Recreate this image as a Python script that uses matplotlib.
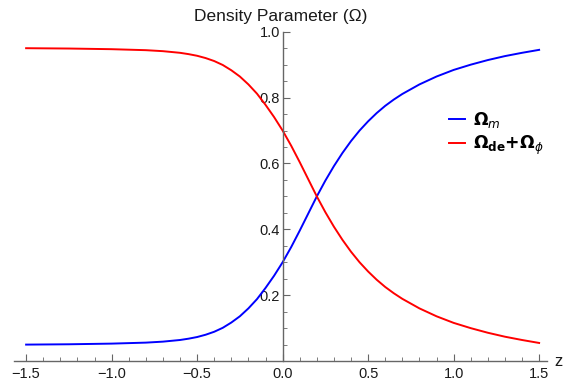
import matplotlib
matplotlib.use('Agg')
import matplotlib.pyplot as plt
from matplotlib.ticker import MultipleLocator, FixedLocator

plt.rcParams['font.family'] = ['Liberation Sans', 'DejaVu Sans']
plt.rcParams['mathtext.fontset'] = 'dejavusans'

# Values
z = [-1.5, -1.25, -1.0, -0.8, -0.7, -0.6, -0.55, -0.5, -0.45, -0.4, -0.35, -0.3,
     -0.25, -0.2, -0.15, -0.1, -0.05, 0.0, 0.05, 0.1, 0.15, 0.2, 0.25, 0.3, 0.35,
     0.4, 0.45, 0.5, 0.55, 0.6, 0.65, 0.7, 0.8, 0.9, 1.0, 1.1, 1.2, 1.3, 1.4, 1.5]
omega_m = [0.050, 0.051, 0.053, 0.056, 0.059, 0.064, 0.068, 0.073, 0.080, 0.089,
           0.101, 0.117, 0.136, 0.160, 0.188, 0.222, 0.259, 0.300, 0.346, 0.396,
           0.448, 0.500, 0.548, 0.592, 0.632, 0.668, 0.700, 0.728, 0.753, 0.775,
           0.794, 0.811, 0.840, 0.864, 0.884, 0.900, 0.914, 0.926, 0.936, 0.945]
omega_de_phi = [0.950, 0.949, 0.947, 0.944, 0.941, 0.936, 0.932, 0.927, 0.920, 0.911,
                0.899, 0.883, 0.864, 0.840, 0.812, 0.778, 0.741, 0.700, 0.654, 0.604,
                0.552, 0.500, 0.452, 0.408, 0.368, 0.332, 0.300, 0.272, 0.247, 0.225,
                0.206, 0.189, 0.160, 0.136, 0.116, 0.100, 0.086, 0.074, 0.064, 0.055]

x_major = [-1.5, -1.0, -0.5, 0.0, 0.5, 1.0, 1.5]
x_labels = ['\u22121.5', '\u22121.0', '\u22120.5', '0.0', '0.5', '1.0', '1.5']
y_major = [0.2, 0.4, 0.6, 0.8, 1.0]
y_labels = ['0.2', '0.4', '0.6', '0.8', '1.0']

fig = plt.figure(figsize=(5.68, 3.87), dpi=100)
ax = fig.add_axes([0.0255, 0.067, 0.9375, 0.851])

ax.plot(z, omega_m, color='#0000ff', lw=1.4, label=r'$\mathbf{\Omega}_{m}$')
ax.plot(z, omega_de_phi, color='#ff0000', lw=1.4,
        label=r'$\mathbf{\Omega_{de}{+}\Omega}_{\phi}$')

ax.set_xlim(-1.568, 1.546)
ax.set_ylim(0, 1.0)

axis_color = '#666666'
for side in ['top', 'right']:
    ax.spines[side].set_visible(False)
ax.spines['left'].set_position(('data', 0))
ax.spines['bottom'].set_position(('data', 0))
ax.spines['left'].set_color(axis_color)
ax.spines['bottom'].set_color(axis_color)
ax.spines['left'].set_linewidth(1.0)
ax.spines['bottom'].set_linewidth(1.0)

ax.xaxis.set_major_locator(FixedLocator(x_major))
ax.set_xticklabels(x_labels)
ax.xaxis.set_minor_locator(MultipleLocator(0.1))
ax.yaxis.set_major_locator(FixedLocator(y_major))
ax.set_yticklabels(y_labels)
ax.yaxis.set_minor_locator(MultipleLocator(0.05))

ax.tick_params(which='both', direction='in', color=axis_color, labelcolor='#1a1a1a',
               labelsize=10.5)
ax.tick_params(which='major', length=5, width=0.8)
ax.tick_params(which='minor', length=3, width=0.6)
ax.tick_params(axis='x', pad=4)
ax.tick_params(axis='y', pad=2)

ax.set_title('Density Parameter (\u03a9)', fontsize=12.5, color='#1a1a1a', pad=8)
fig.text(0.99, 0.067, 'z', fontsize=12, color='#1a1a1a', ha='right', va='center')

leg = ax.legend(loc='upper left', bbox_to_anchor=(434 / 568, 1 - 95 / 387),
                bbox_transform=fig.transFigure, frameon=False, fontsize=12.3,
                handlelength=0.9, handletextpad=0.5, labelspacing=0.2)

fig.savefig('out.png', dpi=100)
